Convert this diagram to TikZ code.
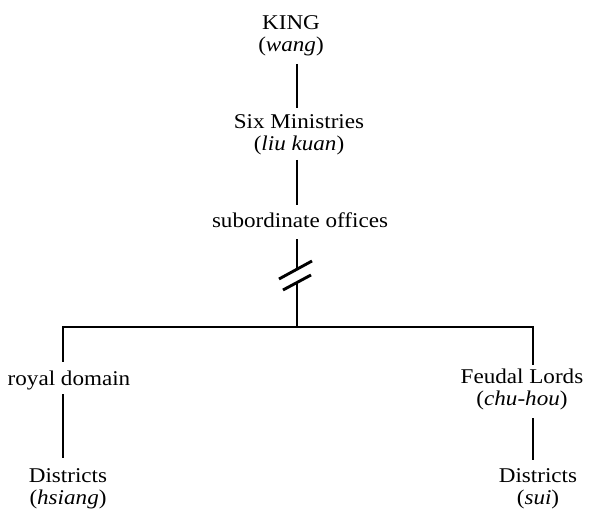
\documentclass[tikz,border=0pt]{standalone}
\usepackage{fontspec}
\setmainfont{Liberation Serif}[FakeStretch=1.1]
\begin{document}
\begin{tikzpicture}[x=1pt,y=-1pt,
  lbl/.style={anchor=north,align=center,inner sep=0pt,font=\fontsize{21}{22}\selectfont},
  conn/.style={line width=2.9pt}]
\useasboundingbox (0,0) rectangle (597,510);
\node[lbl] (king) at (291,15) {KING\\(\textit{wang})};
\node[lbl] (six) at (299,114) {Six Ministries\\(\textit{liu kuan})};
\node[lbl] (sub) at (300,213) {subordinate offices};
\node[lbl] (royal) at (69,371) {royal domain};
\node[lbl] (feudal) at (522,369) {Feudal Lords\\(\textit{chu-hou})};
\node[lbl] (dl) at (68,468) {Districts\\(\textit{hsiang})};
\node[lbl] (dr) at (538,468) {Districts\\(\textit{sui})};
\coordinate (axis) at (297,0);
\coordinate (bt) at (297,269);
\coordinate (bb) at (297,283);
\coordinate (j) at (297,327);
\coordinate (jL) at (63,327);
\coordinate (jR) at (533,327);
\draw[conn,shorten <=8pt,shorten >=6pt] (king.south -| axis) -- (six.north -| axis);
\draw[conn,shorten <=5pt,shorten >=8pt] (six.south -| axis) -- (sub.north -| axis);
\draw[conn,shorten <=11pt] (sub.south -| axis) -- (bt);
\draw[conn] ([shift={(-18,10)}]bt) -- ([shift={(15,-8)}]bt);
\draw[conn] ([shift={(-14,7)}]bb) -- ([shift={(14,-8)}]bb);
\draw[conn] (bb) -- (j);
\draw[conn,shorten <=9pt,shorten >=4pt] (royal.north -| jL) -- (jL) -- (jR) -- (feudal.north -| jR);
\draw[conn,shorten <=3.5pt,shorten >=10pt] (royal.south -| jL) -- (dl.north -| jL);
\draw[conn,shorten <=8pt,shorten >=8pt] (feudal.south -| jR) -- (dr.north -| jR);
\end{tikzpicture}
\end{document}
